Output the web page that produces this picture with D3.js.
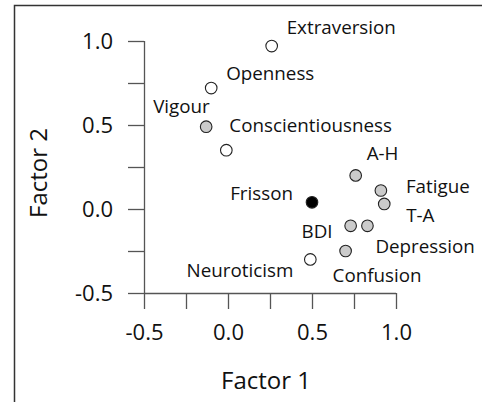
<!DOCTYPE html>
<html>
<head>
<meta charset="utf-8">
<script src="https://cdn.jsdelivr.net/npm/d3@7"></script>
<style>
  body { margin: 0; background: #fff; }
  svg { display: block; }
</style>
</head>
<body>
<svg></svg>
<script>
// variable names and their loadings on the two factors
const names = ['Extraversion', 'Openness', 'Vigour', 'Conscientiousness', 'A-H', 'Fatigue',
    'T-A', 'Frisson', 'BDI', 'Depression', 'Confusion', 'Neuroticism'];
const factor1 = [0.26, -0.10, -0.13, -0.01, 0.76, 0.91, 0.93, 0.50, 0.73, 0.83, 0.70, 0.49];
const factor2 = [0.97, 0.72, 0.49, 0.35, 0.20, 0.11, 0.03, 0.04, -0.10, -0.10, -0.25, -0.30];
// 'white' = personality, 'grey' = mood scales, 'black' = frisson
const groups = ['white', 'white', 'grey', 'white', 'grey', 'grey',
    'grey', 'black', 'grey', 'grey', 'grey', 'white'];
const majorTicks = [-0.5, 0.0, 0.5, 1.0];
const allTicks = [-0.5, -0.25, 0, 0.25, 0.5, 0.75, 1.0];

// label placement next to each point (pixels)
const labelPos = {
    'Extraversion': [15, -12, 'start'],
    'Openness': [15, -8, 'start'],
    'Vigour': [-53, -14, 'start'],
    'Conscientiousness': [3, -18, 'start'],
    'A-H': [11, -15, 'start'],
    'Fatigue': [25, 2, 'start'],
    'T-A': [22, 18, 'start'],
    'Frisson': [-19, -2, 'end'],
    'BDI': [-18, 12, 'end'],
    'Depression': [8, 27, 'start'],
    'Confusion': [-13, 31, 'start'],
    'Neuroticism': [-17, 18, 'end']
};

const fills = { white: '#ffffff', grey: '#cbcbcb', black: '#000000' };
const font = '"Open Sans", sans-serif';
const fmt = d => d.toFixed(1); // plain hyphen for negatives

const svg = d3.select('svg')
    .attr('width', 482)
    .attr('height', 402);

// frame (top and left edge only)
svg.append('path')
    .attr('d', 'M14.5,402 V5.5 H482')
    .attr('fill', 'none')
    .attr('stroke', '#333')
    .attr('stroke-width', 1.5);

const x = d3.scaleLinear().domain([-0.5, 1.0]).range([144, 396]);
const y = d3.scaleLinear().domain([-0.5, 1.0]).range([293, 41]);

// x axis
const xAxis = svg.append('g')
    .attr('transform', 'translate(0,293)')
    .call(d3.axisBottom(x).tickValues(allTicks).tickSize(16)
        .tickFormat(d => majorTicks.includes(d) ? fmt(d) : ''));

// y axis
const yAxis = svg.append('g')
    .attr('transform', 'translate(144,0)')
    .call(d3.axisLeft(y).tickValues(allTicks).tickSize(16)
        .tickFormat(d => majorTicks.includes(d) ? fmt(d) : ''));

[xAxis, yAxis].forEach(g => {
    g.select('.domain').attr('stroke', '#555').attr('stroke-width', 1.3)
        .attr('d', g === xAxis ? 'M144,0.5H396' : 'M0.5,293V41');
    g.selectAll('.tick line').attr('stroke', '#555').attr('stroke-width', 1.3);
    g.selectAll('.tick text')
        .attr('font-family', font)
        .attr('font-size', 22)
        .attr('fill', '#111');
});
xAxis.selectAll('.tick text').attr('y', 31);
yAxis.selectAll('.tick text').attr('x', -31);

// axis titles
svg.append('text')
    .attr('x', 266)
    .attr('y', 389)
    .attr('text-anchor', 'middle')
    .attr('font-family', font)
    .attr('font-size', 24)
    .attr('fill', '#111')
    .text('Factor 1');

svg.append('text')
    .attr('transform', 'translate(47,173) rotate(-90)')
    .attr('text-anchor', 'middle')
    .attr('font-family', font)
    .attr('font-size', 24)
    .attr('fill', '#111')
    .text('Factor 2');

const data = names.map((n, i) => ({ name: n, f1: factor1[i], f2: factor2[i], group: groups[i] }));

// points
svg.append('g').selectAll('circle')
    .data(data)
    .join('circle')
    .attr('cx', d => x(d.f1))
    .attr('cy', d => y(d.f2))
    .attr('r', 5.8)
    .attr('fill', d => fills[d.group])
    .attr('stroke', '#222')
    .attr('stroke-width', 1.1);

// point labels
svg.append('g').selectAll('text')
    .data(data)
    .join('text')
    .attr('x', d => x(d.f1) + labelPos[d.name][0])
    .attr('y', d => y(d.f2) + labelPos[d.name][1])
    .attr('text-anchor', d => labelPos[d.name][2])
    .attr('font-family', font)
    .attr('font-size', 18.8)
    .attr('fill', '#111')
    .text(d => d.name);
</script>
</body>
</html>
